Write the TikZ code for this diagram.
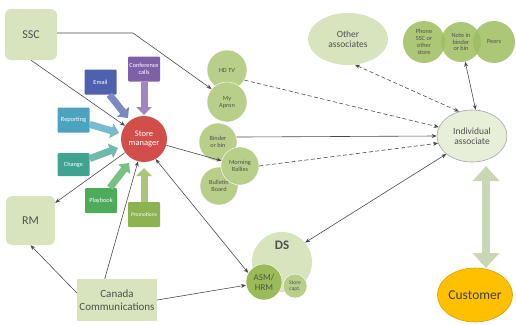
\documentclass[tikz,border=0pt]{standalone}
\usepackage{fontspec}
\setmainfont{Carlito}
\usetikzlibrary{arrows.meta,shapes.geometric}

\definecolor{boxgreen}{HTML}{D7E4BD}
\definecolor{txtgray}{HTML}{505050}
\definecolor{circgreen}{HTML}{B8CF89}
\definecolor{midgreen}{HTML}{9DBE5E}
\definecolor{asmgreen}{HTML}{9BBB59}
\definecolor{mgrred}{HTML}{D24E4A}
\definecolor{emailblue}{HTML}{4F60AE}
\definecolor{confpurple}{HTML}{7F5FA8}
\definecolor{repblue}{HTML}{4BA3BE}
\definecolor{changeteal}{HTML}{3FA392}
\definecolor{playgreen}{HTML}{4DAB5A}
\definecolor{promogreen}{HTML}{8DB350}
\definecolor{custorange}{HTML}{FFC000}
\definecolor{iafill}{HTML}{E8EFD8}
\definecolor{linegray}{HTML}{4A4A4A}
\definecolor{bigarrow}{HTML}{CAD7B5}

\tikzset{
  sqbox/.style={fill=boxgreen, text=txtgray, rounded corners=6pt, inner sep=0pt,
    font=\fontsize{12}{13}\selectfont},
  chan/.style={fill=#1, text=white, rounded corners=1pt, inner sep=1pt, align=center,
    minimum width=32pt, minimum height=25pt, font=\fontsize{6.3}{7}\selectfont},
  feed/.style={draw=#1!75!white, line width=7pt, line cap=butt,
    -{Triangle[width=15pt,length=8pt]}},
  media/.style={circle, fill=circgreen, draw=white, line width=0.4pt, inner sep=0pt,
    text=txtgray, align=center, font=\fontsize{6.3}{7}\selectfont},
  source/.style={circle, fill=midgreen, fill opacity=0.85, text opacity=1, inner sep=0pt,
    text=txtgray, align=center, minimum size=#1, font=\fontsize{6.3}{6.8}\selectfont},
  conn/.style={draw=linegray, line width=0.6pt, -{Stealth[length=5pt,width=4pt]}},
  dconn/.style={conn, dash pattern=on 4pt off 2.5pt},
  both/.style={{Stealth[length=5pt,width=4pt]}-{Stealth[length=5pt,width=4pt]}},
}

\begin{document}
\begin{tikzpicture}[x=1pt,y=-1pt]
\useasboundingbox (0,0) rectangle (516,324);

% big two-way arrow between associate and customer
\draw[draw=bigarrow, line width=8pt, line cap=butt,
  {Triangle[width=26pt,length=15pt]}-{Triangle[width=26pt,length=15pt]}]
  (486,166) -- (486,268);

% organisational boxes
\node[sqbox, minimum width=52pt, minimum height=51pt] (ssc) at (31,34.5) {SSC};
\node[sqbox, minimum width=49pt, minimum height=49pt] (rm) at (30.5,220.5) {RM};
\node[fill=boxgreen, text=txtgray, minimum width=80pt, minimum height=42pt, inner sep=0pt,
  align=center, font=\fontsize{11}{12.5}\selectfont] (canada) at (117,300)
  {Canada\\Communications};

% store manager and the channels feeding it
\node[circle, fill=mgrred, text=white, minimum size=46pt, inner sep=0pt, align=center,
  font=\fontsize{8.5}{9.5}\selectfont] (mgr) at (144,139) {Store\\manager};

\node[chan=emailblue] (email) at (100.5,82) {Email};
\node[chan=confpurple] (conf) at (144,69) {Conference\\calls};
\node[chan=repblue] (rep) at (73.5,120) {Reporting};
\node[chan=changeteal, minimum height=23pt] (chg) at (73.5,164.5) {Change};
\node[chan=playgreen] (play) at (101,200.5) {Playbook};
\node[chan=promogreen, font=\fontsize{5.5}{6}\selectfont] (promo) at (144,214.5) {Promotions};

\coordinate (emailtip) at (128,118);
\coordinate (conftip) at (144,115);
\coordinate (reptip) at (119,133);
\coordinate (chgtip) at (118,148);
\coordinate (playtip) at (129,163);
\coordinate (promotip) at (144,168);
\draw[feed=emailblue] (email.-55) -- (emailtip);
\draw[feed=confpurple] (conf.south) -- (conftip);
\draw[feed=repblue] (rep.-15) -- (reptip);
\draw[feed=changeteal] (chg.20) -- (chgtip);
\draw[feed=playgreen] (play.55) -- (playtip);
\draw[feed=promogreen] (promo.north) -- (promotip);

% media circles
\node[media, minimum size=40pt] (hdtv) at (227,70) {HD TV};
\node[media, minimum size=40pt] (apron) at (227,102) {My\\Apron};
\node[media, minimum size=38pt] (binder) at (218,142) {Binder\\or bin};
\node[media, minimum size=38pt] (bulletin) at (219,186) {Bulletin\\Board};
\node[media, minimum size=38pt] (rallies) at (240,166) {Morning\\Rallies};

% district support
\node[circle, fill=boxgreen, minimum size=60pt, inner sep=0pt,
  label={[text=txtgray, font=\bfseries\fontsize{13}{14}\selectfont, yshift=17pt]center:DS}]
  (ds) at (282,262) {};
\node[circle, fill=asmgreen, draw=white, line width=0.4pt, minimum size=36pt, inner sep=0pt,
  text=txtgray, align=center, font=\fontsize{9}{10}\selectfont] (asm) at (264,282) {ASM/\\HRM};
\node[media, minimum size=24pt, font=\fontsize{5.5}{6}\selectfont] (capt) at (295,286) {Store\\capt.};

% associates side
\node[ellipse, fill=boxgreen, minimum width=80pt, minimum height=52pt, inner sep=0pt,
  text=txtgray, align=center, font=\fontsize{9.5}{10.5}\selectfont] (other) at (348,39)
  {Other\\associates};
\node[source=42pt] (phone) at (424,42) {Phone\\SSC or\\other\\store};
\node[source=40pt] (note) at (461,42) {Note in\\binder\\or bin};
\node[source=42pt] (peers) at (494,42) {Peers};

\node[ellipse, fill=iafill, draw=gray!70, line width=0.6pt, minimum width=70pt,
  minimum height=52pt, inner sep=0pt, text=txtgray, align=center,
  font=\fontsize{9.5}{10.5}\selectfont] (ia) at (472,136) {Individual\\associate};
\node[ellipse, fill=custorange, draw=custorange!85!black, line width=0.6pt, minimum width=72pt,
  minimum height=54pt, inner sep=0pt, text=black!75,
  font=\fontsize{13.5}{15}\selectfont] (cust) at (475,295) {Customer};

% connectors
\coordinate (sscbend) at (133,33);
\draw[conn] (ssc.east |- sscbend) -- (sscbend) -- (apron.140);
\draw[conn] (ssc.south) -- (mgr);
\draw[conn] (mgr) -- (rallies);
\draw[conn] (mgr) -- (rm);
\draw[conn] (canada.170) -- (rm.south);
\draw[conn] (canada.120) -- (mgr.-105);
\draw[conn, both] (mgr.-60) -- (asm.150);
\draw[conn] (canada.east) -- (asm.190);

\draw[dconn] (hdtv.-30) -- (ia.165);
\draw[conn] (binder.15) -- (ia.west);
\draw[dconn] (rallies.east) -- (ia.192);
\draw[conn, both] (ds.40) -- (ia.215);
\draw[dconn, both] (other.-75) -- (ia.118);
\draw[conn, both] (note.-78) -- (ia.82);
\end{tikzpicture}
\end{document}
